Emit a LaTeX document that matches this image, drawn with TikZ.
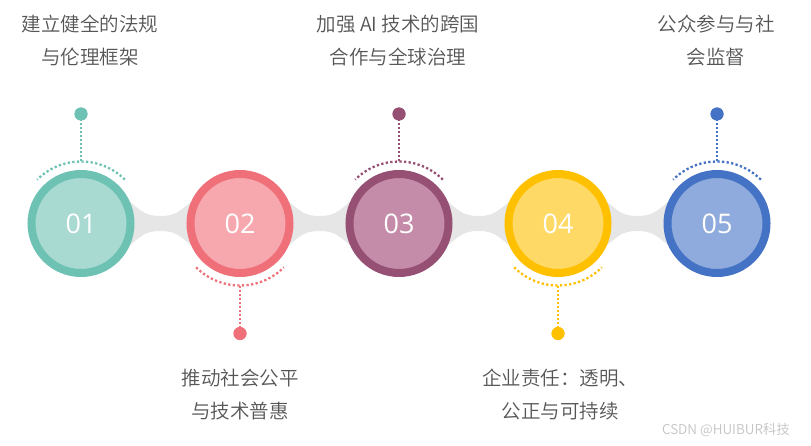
\documentclass[tikz,border=0pt]{standalone}
\usepackage{fontspec}
\setmainfont{Noto Sans CJK SC}[UprightFont={* DemiLight}]
\newfontfamily\numfont{Open Sans}
\definecolor{rA}{HTML}{6EC2B4}\definecolor{fA}{HTML}{A8DAD2}
\definecolor{rB}{HTML}{F0707A}\definecolor{fB}{HTML}{F7A8AE}
\definecolor{rC}{HTML}{955073}\definecolor{fC}{HTML}{C58CA9}
\definecolor{rD}{HTML}{FFC000}\definecolor{fD}{HTML}{FFD966}
\definecolor{rE}{HTML}{4472C4}\definecolor{fE}{HTML}{8FAADC}
\definecolor{band}{HTML}{E6E6E6}
\definecolor{txt}{HTML}{555555}
\definecolor{wm}{HTML}{C4C4C4}
\begin{document}
\begin{tikzpicture}[x=1pt,y=1pt,
  ring/.style={circle,inner sep=0pt,minimum size=99pt,line width=8pt,text=white,
    font=\numfont\fontsize{27}{27}\selectfont},
  dotline/.style={line width=2.3pt,dash pattern=on 2.3pt off 2.3pt},
  pin/.style={circle,inner sep=0pt,minimum size=13pt},
  label/.style={align=center,text=txt,inner sep=0pt,font=\fontsize{19.5}{33}\selectfont}]
\useasboundingbox (0,0) rectangle (811,445);
\def\cy{221.5}
% gray band
\foreach \a in {81,240,399,558}{
  \pgfmathsetmacro\b{\a+159}
  \pgfmathsetmacro\m{\a+79.5}
  \fill[band] (\a+46,\cy+24) .. controls (\a+60,\cy+13) and (\m-16,\cy+7.5) .. (\m,\cy+7.5)
    .. controls (\m+16,\cy+7.5) and (\b-60,\cy+13) .. (\b-46,\cy+24)
    -- (\b-46,\cy-24) .. controls (\b-60,\cy-13) and (\m+16,\cy-7.5) .. (\m,\cy-7.5)
    .. controls (\m-16,\cy-7.5) and (\a+60,\cy-13) .. (\a+46,\cy-24) -- cycle;
}
% circles
\node[ring,draw=rA,fill=fA] (c1) at (81,\cy) {01};
\node[ring,draw=rB,fill=fB] (c2) at (240,\cy) {02};
\node[ring,draw=rC,fill=fC] (c3) at (399,\cy) {03};
\node[ring,draw=rD,fill=fD] (c4) at (558,\cy) {04};
\node[ring,draw=rE,fill=fE] (c5) at (717,\cy) {05};
% arcs, stems and pins (top)
\foreach \c/\col/\x in {c1/rA/81,c3/rC/399,c5/rE/717}{
  \draw[dotline,\col] ([shift={(45:62pt)}]\c.center) arc[start angle=45,end angle=135,radius=62pt];
  \coordinate (t\c) at ([yshift=62pt]\c.center);
  \node[pin,fill=\col] (p\c) at (\x,331) {};
  \draw[dotline,line width=2pt,dash pattern=on 2pt off 2pt,\col] (t\c) -- (p\c.center);
  \fill[\col] (p\c) circle[radius=6.5pt];
}
% bottom
\foreach \c/\col/\x in {c2/rB/240,c4/rD/558}{
  \draw[dotline,\col] ([shift={(225:62pt)}]\c.center) arc[start angle=225,end angle=315,radius=62pt];
  \coordinate (t\c) at ([yshift=-62pt]\c.center);
  \node[pin,fill=\col] (p\c) at (\x,111.5) {};
  \draw[dotline,line width=2pt,dash pattern=on 2pt off 2pt,\col] (t\c) -- (p\c.center);
  \fill[\col] (p\c) circle[radius=6.5pt];
}
% labels
\node[label] (l1) at (90,404.5) {建立健全的法规\\与伦理框架};
\node[label] (l3) at (398,404.5) {加强 AI 技术的跨国\\合作与全球治理};
\node[label] (l5) at (716,404.5) {公众参与与社\\会监督};
\node[label] (l2) at (240,50.5) {推动社会公平\\与技术普惠};
\node[label] (l4) at (560,50.5) {企业责任：透明、\\公正与可持续};
\node[text=wm,inner sep=0pt,font=\fontsize{13.5}{14}\selectfont] (wm) at (726,15) {CSDN @HUIBUR科技};
\end{tikzpicture}
\end{document}
